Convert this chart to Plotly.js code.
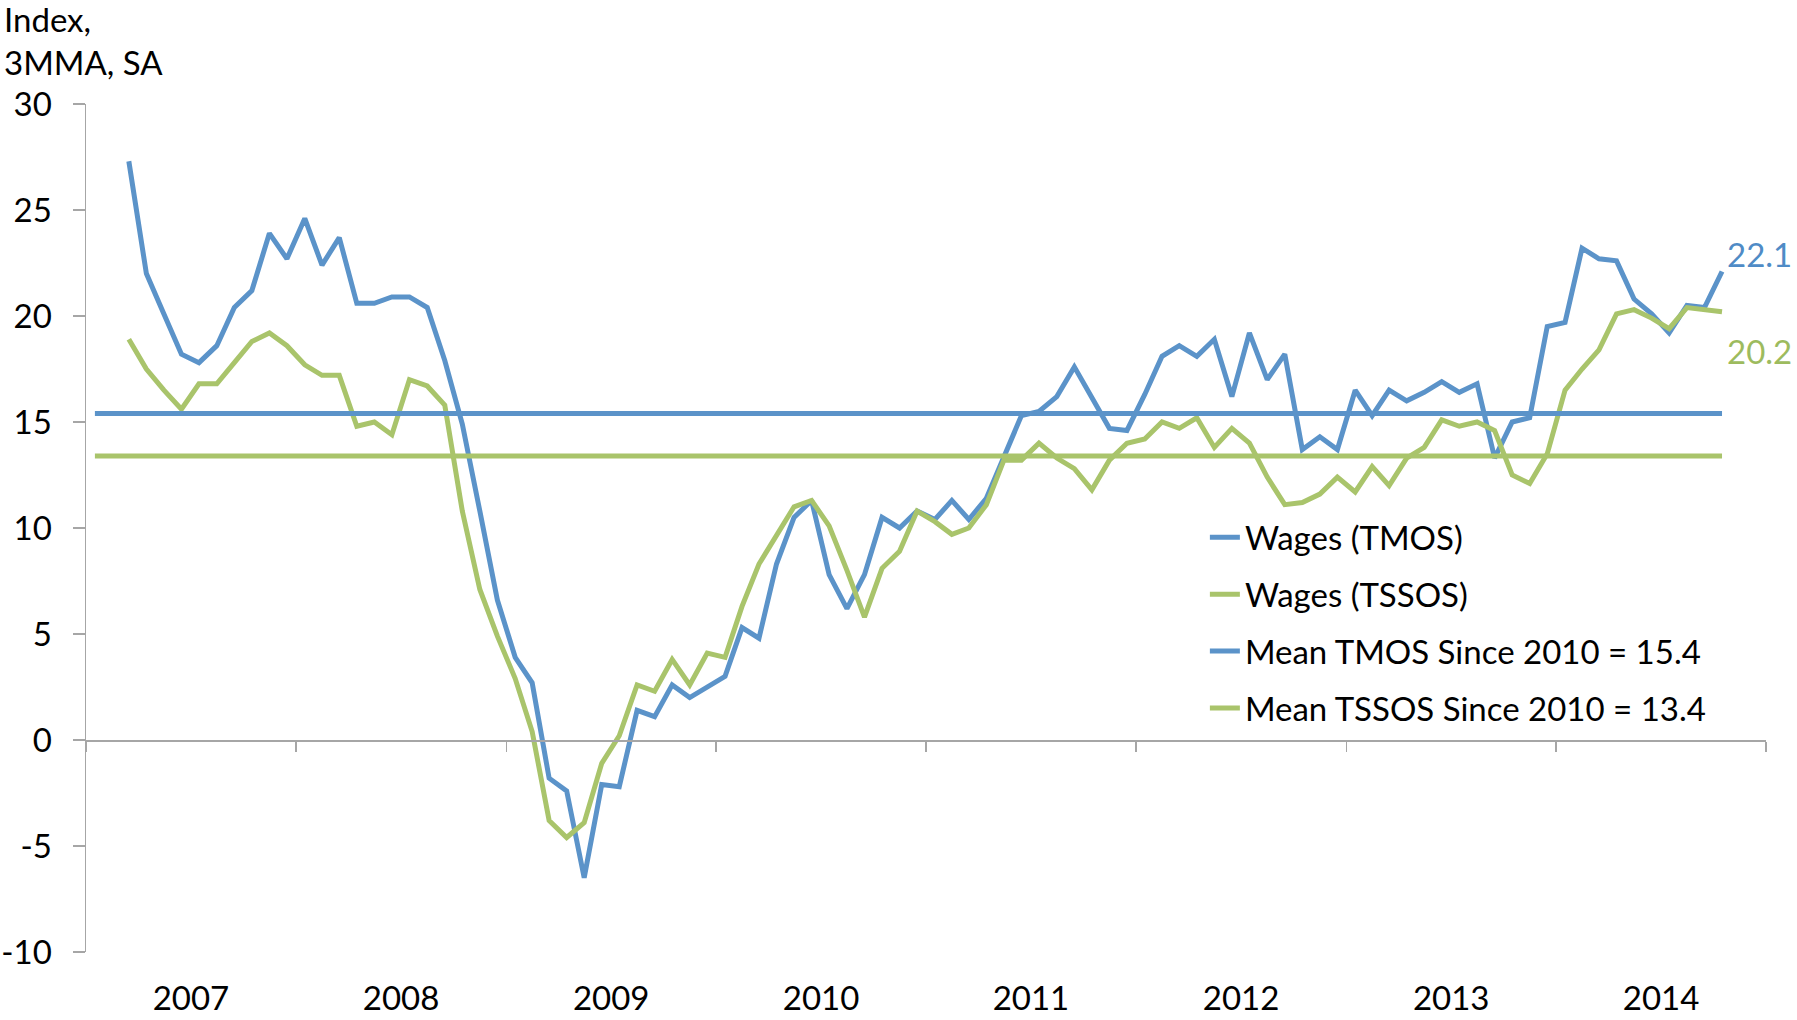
<!DOCTYPE html>
<html>
<head>
<meta charset="utf-8">
<script src="https://cdn.plot.ly/plotly-3.0.1.min.js"></script>
<style>
  html, body { margin: 0; padding: 0; background: #ffffff; }
  #chart { width: 1797px; height: 1020px; }
</style>
</head>
<body>
<div id="chart"></div>
<script>
// Monthly categories, Jan 2007 - Oct 2014
const months = [
  '2007-01','2007-02','2007-03','2007-04','2007-05','2007-06','2007-07','2007-08','2007-09','2007-10','2007-11','2007-12',
  '2008-01','2008-02','2008-03','2008-04','2008-05','2008-06','2008-07','2008-08','2008-09','2008-10','2008-11','2008-12',
  '2009-01','2009-02','2009-03','2009-04','2009-05','2009-06','2009-07','2009-08','2009-09','2009-10','2009-11','2009-12',
  '2010-01','2010-02','2010-03','2010-04','2010-05','2010-06','2010-07','2010-08','2010-09','2010-10','2010-11','2010-12',
  '2011-01','2011-02','2011-03','2011-04','2011-05','2011-06','2011-07','2011-08','2011-09','2011-10','2011-11','2011-12',
  '2012-01','2012-02','2012-03','2012-04','2012-05','2012-06','2012-07','2012-08','2012-09','2012-10','2012-11','2012-12',
  '2013-01','2013-02','2013-03','2013-04','2013-05','2013-06','2013-07','2013-08','2013-09','2013-10','2013-11','2013-12',
  '2014-01','2014-02','2014-03','2014-04','2014-05','2014-06','2014-07','2014-08','2014-09','2014-10'
];

// Wages (TMOS), index, 3MMA, SA
const wagesTMOS = [
  null, null, 27.3, 22.0, 20.1, 18.2, 17.8, 18.6, 20.4, 21.2, 23.9, 22.7,
  24.6, 22.4, 23.7, 20.6, 20.6, 20.9, 20.9, 20.4, 17.9, 14.9, 10.8, 6.6,
  3.9, 2.7, -1.8, -2.4, -6.5, -2.1, -2.2, 1.4, 1.1, 2.6, 2.0, 2.5,
  3.0, 5.3, 4.8, 8.3, 10.5, 11.3, 7.8, 6.2, 7.8, 10.5, 10.0, 10.8,
  10.4, 11.3, 10.4, 11.4, 13.3, 15.3, 15.5, 16.2, 17.6, 16.2, 14.7, 14.6,
  16.3, 18.1, 18.6, 18.1, 18.9, 16.2, 19.2, 17.0, 18.2, 13.7, 14.3, 13.7,
  16.5, 15.3, 16.5, 16.0, 16.4, 16.9, 16.4, 16.8, 13.3, 15.0, 15.2, 19.5,
  19.7, 23.2, 22.7, 22.6, 20.8, 20.1, 19.2, 20.5, 20.4, 22.1
];

// Wages (TSSOS), index, 3MMA, SA
const wagesTSSOS = [
  null, null, 18.9, 17.5, 16.5, 15.6, 16.8, 16.8, 17.8, 18.8, 19.2, 18.6,
  17.7, 17.2, 17.2, 14.8, 15.0, 14.4, 17.0, 16.7, 15.8, 10.8, 7.1, 4.9,
  2.9, 0.4, -3.8, -4.6, -3.9, -1.1, 0.2, 2.6, 2.3, 3.8, 2.6, 4.1,
  3.9, 6.3, 8.3, 9.7, 11.0, 11.3, 10.1, 8.0, 5.8, 8.1, 8.9, 10.8,
  10.3, 9.7, 10.0, 11.1, 13.2, 13.2, 14.0, 13.3, 12.8, 11.8, 13.2, 14.0,
  14.2, 15.0, 14.7, 15.2, 13.8, 14.7, 14.0, 12.4, 11.1, 11.2, 11.6, 12.4,
  11.7, 12.9, 12.0, 13.3, 13.8, 15.1, 14.8, 15.0, 14.6, 12.5, 12.1, 13.5,
  16.5, 17.5, 18.4, 20.1, 20.3, 19.9, 19.4, 20.4, 20.3, 20.2
];

// Means since 2010
const meanTMOS = 15.4;
const meanTSSOS = 13.4;

const seriesNames = ['Wages (TMOS)', 'Wages (TSSOS)', 'Mean TMOS Since 2010 = 15.4', 'Mean TSSOS Since 2010 = 13.4'];
const yTicks = [-10, -5, 0, 5, 10, 15, 20, 25, 30];

const BLUE = '#5b93c9';
const GREEN = '#a9c46b';
const AXIS = '#a6a6a6';
const FONT = 'Lato, "Open Sans", "Liberation Sans", sans-serif';
const FS = 33;

const first = months[0];
const last = months[months.length - 1];

const common = { mode: 'lines', xperiod: 'M1', xperiodalignment: 'middle', cliponaxis: false, hoverinfo: 'skip' };

const traces = [
  Object.assign({}, common, { x: months, y: wagesTMOS, name: seriesNames[0], legendgroup: 'a',
    line: { color: BLUE, width: 5 }, connectgaps: false }),
  Object.assign({}, common, { x: months, y: wagesTSSOS, name: seriesNames[1], legendgroup: 'b',
    line: { color: GREEN, width: 5 }, connectgaps: false }),
  Object.assign({}, common, { x: [first, last], y: [meanTMOS, meanTMOS], name: seriesNames[2], legendgroup: 'c',
    xaxis: 'x2', line: { color: BLUE, width: 5 } }),
  Object.assign({}, common, { x: [first, last], y: [meanTSSOS, meanTSSOS], name: seriesNames[3], legendgroup: 'd',
    xaxis: 'x2', line: { color: GREEN, width: 5 } })
];

const xRange = ['2007-01-01', '2015-01-01'];

const layout = {
  width: 1797,
  height: 1020,
  margin: { l: 86, r: 31, t: 104, b: 68, pad: 0 },
  paper_bgcolor: '#ffffff',
  plot_bgcolor: '#ffffff',
  font: { family: FONT, size: FS, color: '#000000' },
  showlegend: true,
  legend: {
    x: 0.666, y: 0.522, xanchor: 'left', yanchor: 'top',
    traceorder: 'grouped', tracegroupgap: 11,
    bgcolor: 'rgba(0,0,0,0)', borderwidth: 0,
    font: { family: FONT, size: FS, color: '#000000' }
  },
  xaxis: {
    type: 'date',
    range: xRange,
    tick0: '2007-01-01',
    dtick: 'M12',
    tickformat: '%Y',
    ticklabelmode: 'period',
    ticks: '',
    showline: false,
    showgrid: false,
    zeroline: false,
    ticklabelstandoff: 24,
    tickfont: { family: FONT, size: FS, color: '#000000' },
    fixedrange: true
  },
  xaxis2: {
    type: 'date',
    range: xRange,
    overlaying: 'x',
    anchor: 'free',
    position: 0.25,
    tick0: '2007-01-01',
    dtick: 'M12',
    ticks: 'outside',
    ticklen: 10,
    tickwidth: 1.5,
    tickcolor: AXIS,
    showticklabels: false,
    showline: true,
    linecolor: AXIS,
    linewidth: 1.5,
    showgrid: false,
    zeroline: false,
    fixedrange: true
  },
  yaxis: {
    range: [-10, 30],
    tickvals: yTicks,
    ticktext: yTicks.map(String),
    ticks: 'outside',
    ticklen: 12,
    tickwidth: 1.5,
    tickcolor: AXIS,
    showline: true,
    linecolor: AXIS,
    linewidth: 1.5,
    showgrid: false,
    zeroline: false,
    ticklabelstandoff: 14,
    tickfont: { family: FONT, size: FS, color: '#000000' },
    fixedrange: true
  },
  annotations: [
    {
      xref: 'paper', yref: 'paper', x: -0.05, y: 1.126, xanchor: 'left', yanchor: 'top',
      text: 'Index,<br>3MMA, SA', align: 'left', showarrow: false,
      font: { family: FONT, size: FS, color: '#000000' }
    },
    {
      xref: 'x', yref: 'y', x: last, y: wagesTMOS[wagesTMOS.length - 1],
      xanchor: 'left', yanchor: 'middle', xshift: 12, yshift: 17,
      text: wagesTMOS[wagesTMOS.length - 1].toFixed(1), showarrow: false,
      font: { family: FONT, size: FS, color: '#4f8bc6' }
    },
    {
      xref: 'x', yref: 'y', x: last, y: wagesTSSOS[wagesTSSOS.length - 1],
      xanchor: 'left', yanchor: 'middle', xshift: 12, yshift: -39,
      text: wagesTSSOS[wagesTSSOS.length - 1].toFixed(1), showarrow: false,
      font: { family: FONT, size: FS, color: '#9dbb5e' }
    }
  ]
};

Plotly.newPlot('chart', traces, layout, { staticPlot: true, displayModeBar: false });
</script>
</body>
</html>
